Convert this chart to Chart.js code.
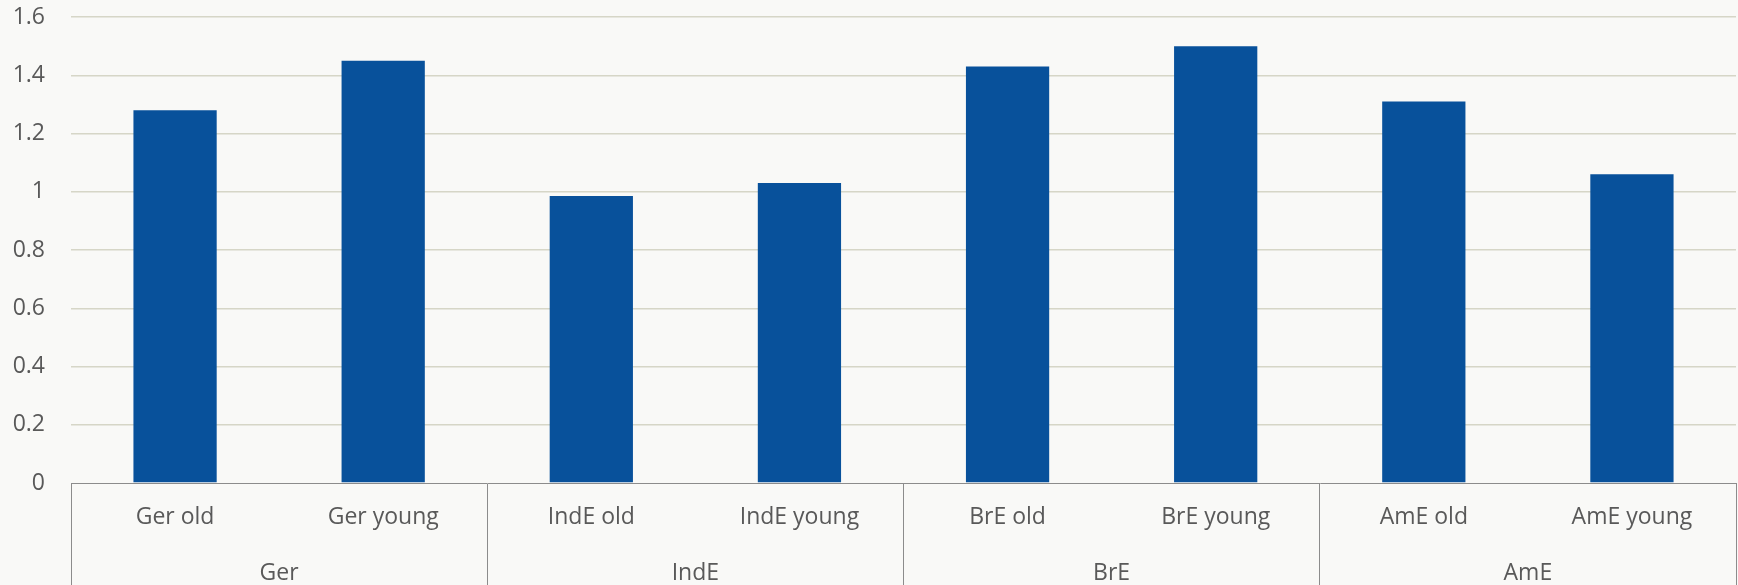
<!DOCTYPE html>
<html>
<head>
<meta charset="utf-8">
<script src="https://cdn.jsdelivr.net/npm/chart.js@4/dist/chart.umd.min.js"></script>
<style>
  html, body { margin: 0; padding: 0; background: #f9f9f7; }
  #wrap { width: 1738px; height: 585px; }
</style>
</head>
<body>
<div id="wrap"><canvas id="c" width="1738" height="585"></canvas></div>
<script>
// Speaker groups and their age subgroups
const groupLabels = ['Ger', 'IndE', 'BrE', 'AmE'];
const subLabels = ['Ger old', 'Ger young', 'IndE old', 'IndE young', 'BrE old', 'BrE young', 'AmE old', 'AmE young'];
const values = [1.28, 1.45, 0.985, 1.03, 1.43, 1.50, 1.31, 1.06];
const yTicks = { min: 0, max: 1.6, step: 0.2 };

const FONT = '"Open Sans", sans-serif';
const TEXT = '#595959';
const SEP = '#8c8c8c';
const CLEAR = 'rgba(0,0,0,0)';

new Chart(document.getElementById('c'), {
  type: 'bar',
  data: {
    labels: subLabels,
    datasets: [{
      data: values,
      backgroundColor: '#08519b',
      borderWidth: 0,
      barPercentage: 0.4,
      categoryPercentage: 1.0,
      xAxisID: 'x'
    }]
  },
  options: {
    responsive: false,
    devicePixelRatio: 1,
    animation: false,
    layout: { padding: { top: 17, right: 2, bottom: 0, left: 0 } },
    plugins: { legend: { display: false }, tooltip: { enabled: false } },
    scales: {
      y: {
        min: yTicks.min,
        max: yTicks.max,
        ticks: {
          stepSize: yTicks.step,
          color: TEXT,
          font: { family: FONT, size: 23 },
          padding: 0,
          callback: (v) => String(Math.round(v * 10) / 10)
        },
        grid: {
          drawTicks: true,
          tickLength: 26,
          tickColor: CLEAR,
          lineWidth: 1.5,
          color: (ctx) => (ctx.tick && ctx.tick.value === 0) ? CLEAR : '#d6d6c7'
        },
        border: { display: false },
        afterFit: (s) => { s.width = 71; }
      },
      x: {
        type: 'category',
        position: 'bottom',
        weight: 0,
        offset: true,
        grid: {
          offset: true,
          drawOnChartArea: false,
          drawTicks: true,
          tickLength: 102,
          lineWidth: 1,
          // separators only at group boundaries
          color: (ctx) => (ctx.index === undefined || ctx.index % 2 === 0) ? SEP : CLEAR
        },
        border: { display: true, color: SEP, width: 1 },
        ticks: { color: TEXT, font: { family: FONT, size: 23 }, padding: -81, maxRotation: 0, autoSkip: false },
        afterFit: (s) => { s.height = 52; }
      },
      x2: {
        type: 'category',
        labels: groupLabels,
        position: 'bottom',
        weight: 1,
        offset: true,
        grid: { display: false },
        border: { display: false },
        ticks: { color: TEXT, font: { family: FONT, size: 23 }, padding: 17, maxRotation: 0, autoSkip: false },
        afterFit: (s) => { s.height = 50; }
      }
    }
  }
});
</script>
</body>
</html>
